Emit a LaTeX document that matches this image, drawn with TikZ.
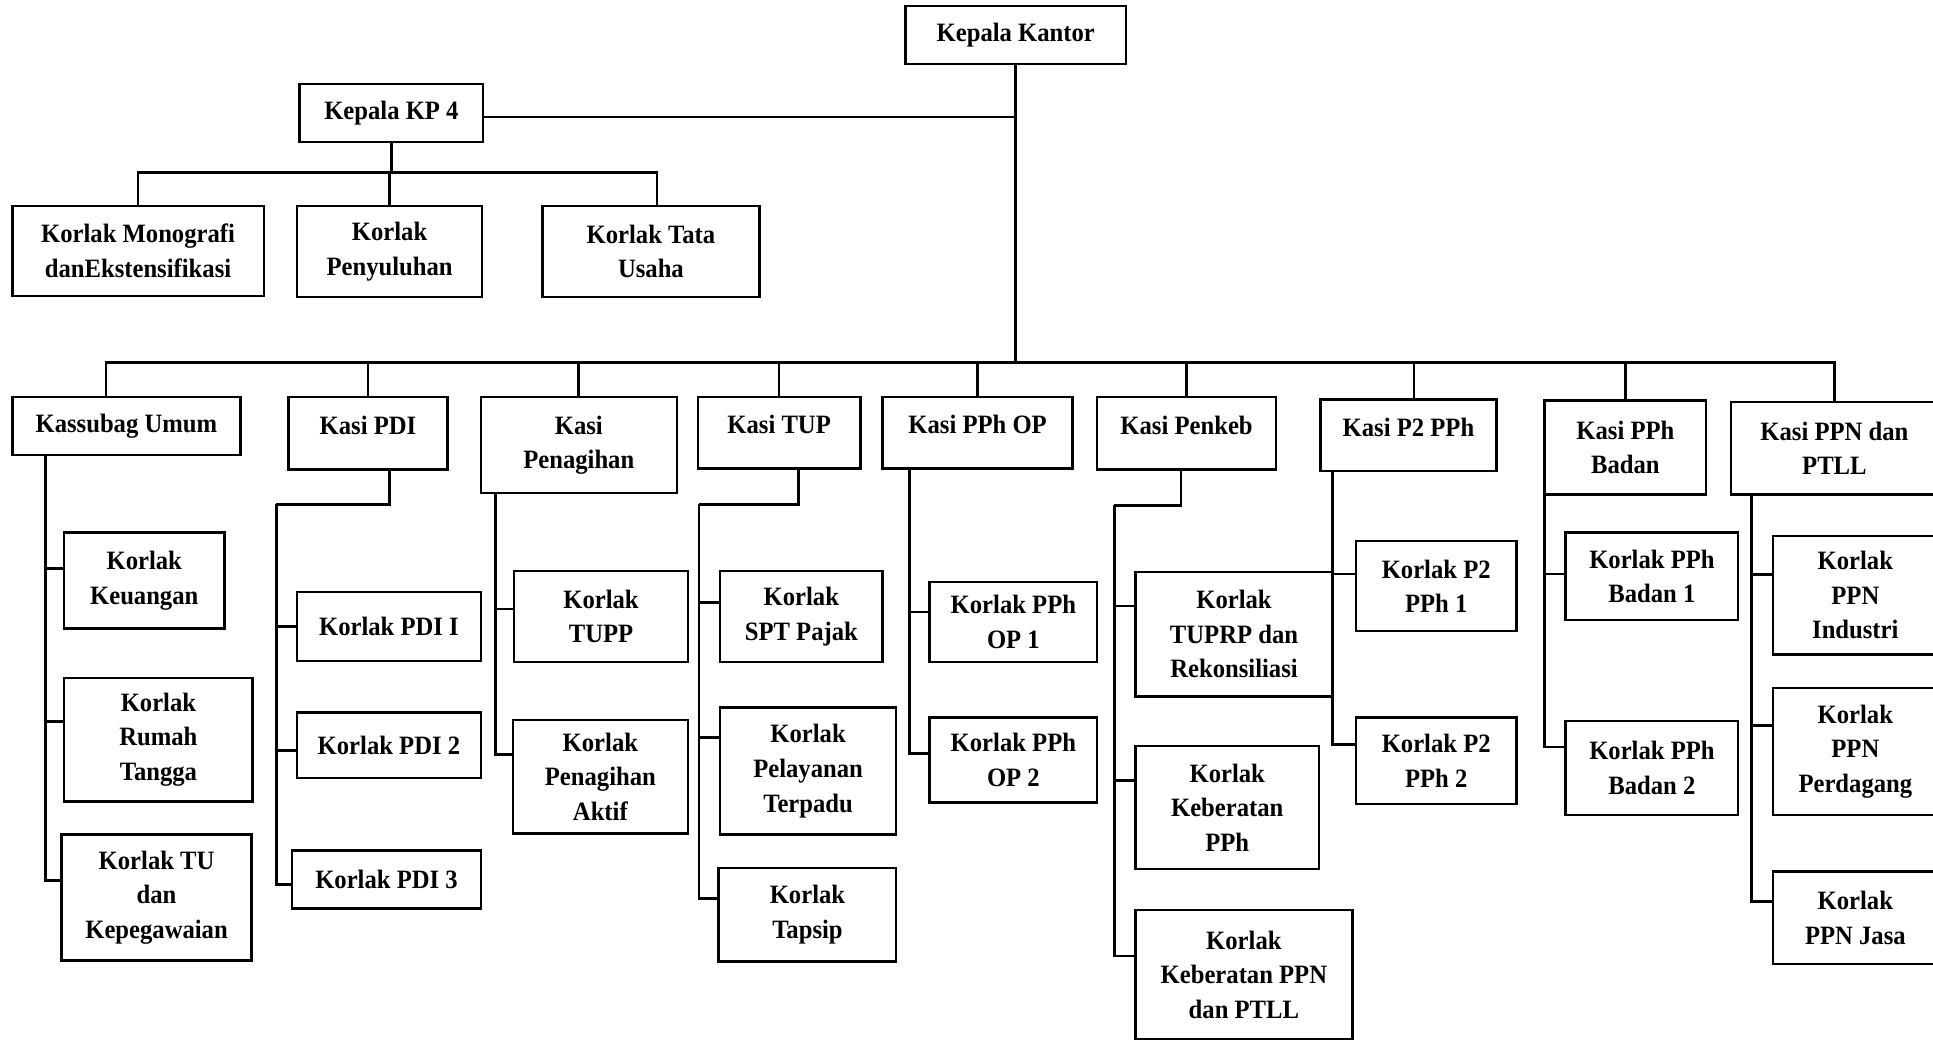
\documentclass[tikz,border=0pt]{standalone}
\usepackage{fontspec}
\setmainfont{Liberation Serif}[FakeStretch=0.93]
\usetikzlibrary{positioning}

\begin{document}
\begin{tikzpicture}[
  x=1pt,y=-1pt,
  unit/.style={draw,line width=2pt,align=center,inner sep=2pt,
               font=\bfseries\fontsize{21.5}{28}\selectfont},
  boxsize/.style 2 args={minimum width=#1,minimum height=#2},
  onerow/.style={text depth=13pt},
  link/.style={line width=2.2pt},
]
\useasboundingbox (0,0) rectangle (1568,845);

% === Top level ===
\node[unit,boxsize={179}{47}] (kk) at (824,28.5) {Kepala Kantor};
\node[unit,boxsize={149}{47}] (kp4) at (317.5,91.5) {Kepala KP 4};

\node[unit,boxsize={204}{73}] (mono) at (112,203.5) {Korlak Monografi\\danEkstensifikasi};
\node[unit,boxsize={150}{74}] (peny) at (316,204) {Korlak\\Penyuluhan};
\node[unit,boxsize={176}{74}] (tata) at (528,204) {Korlak Tata\\Usaha};

% === Kasi row ===
\node[unit,boxsize={185}{47}] (ku) at (102.5,345.5) {Kassubag Umum};
\node[unit,onerow,boxsize={129}{59}] (pdi) at (298.5,351.5) {Kasi PDI};
\node[unit,boxsize={159}{78}] (pen) at (469.5,361) {Kasi\\Penagihan};
\node[unit,onerow,boxsize={132}{58}] (tup) at (632,351) {Kasi TUP};
\node[unit,onerow,boxsize={154}{58}] (ppop) at (793,351) {Kasi PPh OP};
\node[unit,onerow,boxsize={145}{59}] (penkeb) at (962.5,351.5) {Kasi Penkeb};
\node[unit,onerow,boxsize={143}{58}] (p2) at (1142.5,353) {Kasi P2 PPh};
\node[unit,boxsize={131}{76}] (ppb) at (1318.5,363) {Kasi PPh\\Badan};
\node[unit,boxsize={168}{75}] (ppn) at (1488,363.5) {Kasi PPN dan\\PTLL};

% === Korlak boxes ===
\node[unit,boxsize={130}{78}] (keu) at (117,471) {Korlak\\Keuangan};
\node[unit,boxsize={153}{100}] (rt) at (128.5,600) {Korlak\\Rumah\\Tangga};
\node[unit,boxsize={154}{102}] (tu) at (127,728) {Korlak TU\\dan\\Kepegawaian};

\node[unit,boxsize={149}{56}] (pdi1) at (315.5,508) {Korlak PDI I};
\node[unit,boxsize={149}{53}] (pdi2) at (315.5,604.5) {Korlak PDI 2};
\node[unit,boxsize={153}{47}] (pdi3) at (313.5,713.5) {Korlak PDI 3};

\node[unit,boxsize={141}{74}] (tupp) at (487.5,500) {Korlak\\TUPP};
\node[unit,boxsize={142}{92}] (pa) at (487,630) {Korlak\\Penagihan\\Aktif};

\node[unit,boxsize={132}{74}] (spt) at (650,500) {Korlak\\SPT Pajak};
\node[unit,boxsize={143}{103}] (pt) at (655.5,625.5) {Korlak\\Pelayanan\\Terpadu};
\node[unit,boxsize={144}{76}] (taps) at (655,742) {Korlak\\Tapsip};

\node[unit,boxsize={136}{65}] (op1) at (822,504.5) {Korlak PPh\\OP 1};
\node[unit,boxsize={136}{69}] (op2) at (822,616.5) {Korlak PPh\\OP 2};

\node[unit,boxsize={160}{101}] (tuprp) at (1001,514.5) {Korlak\\TUPRP dan\\Rekonsiliasi};
\node[unit,boxsize={149}{100}] (kpph) at (995.5,655) {Korlak\\Keberatan\\PPh};
\node[unit,boxsize={176}{105}] (kppn) at (1009,790.5) {Korlak\\Keberatan PPN\\dan PTLL};

\node[unit,boxsize={130}{73}] (p21) at (1165,475.5) {Korlak P2\\PPh 1};
\node[unit,boxsize={130}{70}] (p22) at (1165,617) {Korlak P2\\PPh 2};

\node[unit,boxsize={140}{71}] (b1) at (1340,467.5) {Korlak PPh\\Badan 1};
\node[unit,boxsize={140}{76}] (b2) at (1340,623) {Korlak PPh\\Badan 2};

\node[unit,boxsize={134}{96}] (ind) at (1505,483) {Korlak\\PPN\\Industri};
\node[unit,boxsize={134}{103}] (per) at (1505,609.5) {Korlak\\PPN\\Perdagang};
\node[unit,boxsize={134}{75}] (jasa) at (1505,744.5) {Korlak\\PPN Jasa};

% === Connectors: top ===
\coordinate (kpJ) at (kk.south |- 0,95);
\draw[link] (kp4.east |- kpJ) -- (kpJ);
\coordinate (kpB) at (kp4.south |- 0,140);
\draw[link] (kp4.south) -- (kpB);
\draw[link] (kpB) -| (mono.north);
\draw[link] (kpB) -| (peny.north);
\draw[link] (kpB) -| ([xshift=5pt]tata.north);

\coordinate (bus) at (kk.south |- 0,294);
\draw[link] (kk.south) -- (bus);
\draw[link] (bus) -| ([xshift=-16.5pt]ku.north);
\foreach \n in {pdi,pen,tup,ppop,penkeb,ppb,ppn}
  \draw[link] (bus) -| (\n.north);
\draw[link] (bus) -| ([xshift=4.5pt]p2.north);

% === Connectors: Kasi to Korlak ===
\coordinate (kuT) at (ku.south -| 37,0);
\foreach \n/\s in {keu/10,rt/15,tu/14}
  \draw[link] (kuT) |- ([yshift=\s pt]\n.west);

\coordinate (pdiK) at (224,409);
\draw[link] ([xshift=17.5pt]pdi.south) |- (pdiK);
\foreach \n/\s in {pdi1/0,pdi2/-4,pdi3/-4}
  \draw[link] (pdiK) |- ([yshift=\s pt]\n.west);

\coordinate (penT) at (pen.south -| 402,0);
\foreach \n/\s in {tupp/6,pa/18}
  \draw[link] (penT) |- ([yshift=\s pt]\n.west);

\coordinate (tupK) at (567,409);
\draw[link] ([xshift=16pt]tup.south) |- (tupK);
\foreach \n/\s in {spt/11,pt/27,taps/13}
  \draw[link] (tupK) |- ([yshift=\s pt]\n.west);

\coordinate (opT) at (ppop.south -| 738,0);
\foreach \n/\s in {op1/8,op2/5}
  \draw[link] (opT) |- ([yshift=\s pt]\n.west);

\coordinate (pkK) at (904,410);
\draw[link] ([xshift=-4.5pt]penkeb.south) |- (pkK);
\foreach \n/\s in {tuprp/23,kpph/22,kppn/15}
  \draw[link] (pkK) |- ([yshift=\s pt]\n.west);

\coordinate (p2T) at (p2.south -| 1081,0);
\foreach \n/\s in {p21/10,p22/13}
  \draw[link] (p2T) |- ([yshift=\s pt]\n.west);

\coordinate (pbT) at (ppb.south -| 1253,0);
\foreach \n/\s in {b1/2,b2/17}
  \draw[link] (pbT) |- ([yshift=\s pt]\n.west);

\coordinate (pnT) at (ppn.south -| 1421,0);
\foreach \n/\s in {ind/17,per/21,jasa/13}
  \draw[link] (pnT) |- ([yshift=\s pt]\n.west);

\end{tikzpicture}
\end{document}
